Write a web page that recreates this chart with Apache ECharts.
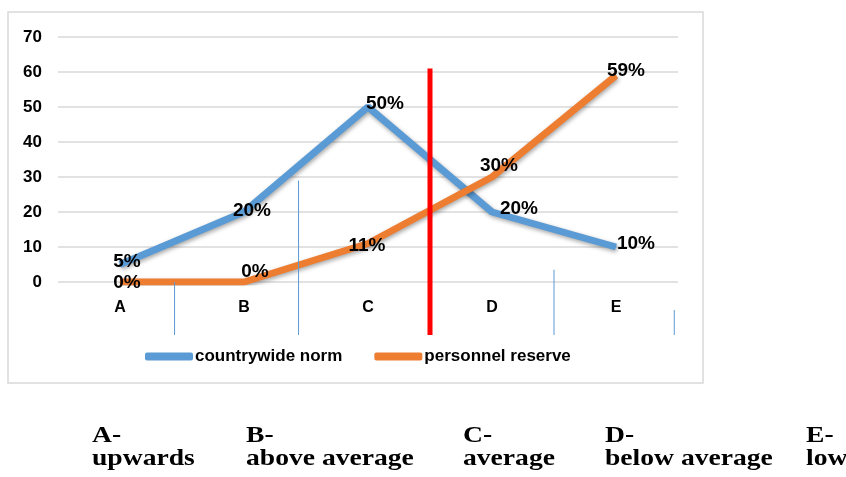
<!DOCTYPE html>
<html><head><meta charset="utf-8">
<script src="https://cdn.jsdelivr.net/npm/echarts@6/dist/echarts.min.js"></script>
<style>html,body{margin:0;padding:0;background:#fff}#c{width:846px;height:477px}</style>
</head><body><div id="c"></div>
<script>
const categories = ['A','B','C','D','E'];
const countrywideNorm = [5, 20, 50, 20, 10];
const personnelReserve = [0, 0, 11, 30, 59];
const yTicks = [0, 10, 20, 30, 40, 50, 60, 70];
const bottomCodes = ['A-', 'B-', 'C-', 'D-', 'E-'];
const bottomNames = ['upwards', 'above average', 'average', 'below average', 'low'];

const chart = echarts.init(document.getElementById('c'));
const blueOffsets = [[7,-3],[8,-1],[17,-3],[27,-3],[20,-3]];
const orangeOffsets = [[7,1],[11,-10],[-1,2],[7,-11],[10,-5]];
function mk(vals, offs) {
  return vals.map((v,i)=>({value:v,label:{offset:offs[i]}}));
}
const narrow = '"Liberation Sans Narrow", "Arial Narrow", "Liberation Sans", sans-serif';
const labelStyle = {show:true, position:'inside', formatter:'{c}%', color:'#000', fontSize:19, fontWeight:'bold', fontFamily:narrow};
chart.setOption({
  animation:false,
  grid:{left:58, right:168, top:37, bottom:195, containLabel:false},
  legend:{left:140, top:343, itemWidth:48, itemHeight:8, itemGap:32, icon:'roundRect',
    textStyle:{fontSize:17, fontWeight:'bold', color:'#000', fontFamily:narrow, padding:[0,0,0,-3]}},
  xAxis:{type:'category', data:categories, boundaryGap:true,
    axisLine:{show:false}, axisTick:{show:false},
    axisLabel:{fontSize:16, fontWeight:'bold', color:'#000', margin:18, fontFamily:'Liberation Sans, Arial, sans-serif'}},
  yAxis:{type:'value', min:yTicks[0], max:yTicks[yTicks.length-1], interval:10,
    axisLine:{show:false}, axisTick:{show:false},
    splitLine:{lineStyle:{color:'#d9d9d9', width:1.5}},
    axisLabel:{fontSize:17, fontWeight:'bold', color:'#000', margin:16, fontFamily:narrow}},
  series:[
    {name:'countrywide norm', type:'line', data:mk(countrywideNorm, blueOffsets), symbol:'circle', symbolSize:1, showSymbol:true, z:3,
      lineStyle:{color:'#5B9BD5', width:7, shadowColor:'rgba(0,0,0,0.35)', shadowBlur:4, shadowOffsetY:2, shadowOffsetX:1},
      itemStyle:{color:'#5B9BD5'}, label:labelStyle},
    {name:'personnel reserve', type:'line', data:mk(personnelReserve, orangeOffsets), symbol:'circle', symbolSize:1, showSymbol:true, z:4,
      lineStyle:{color:'#ED7D31', width:7, shadowColor:'rgba(0,0,0,0.35)', shadowBlur:4, shadowOffsetY:2, shadowOffsetX:1},
      itemStyle:{color:'#ED7D31'}, label:labelStyle}
  ]
});

// decorations positioned through the chart's own scales
const band = chart.convertToPixel({xAxisIndex:0}, 'B') - chart.convertToPixel({xAxisIndex:0}, 'A');
const xOf = c => chart.convertToPixel({xAxisIndex:0}, c);
const yOf = v => chart.convertToPixel({yAxisIndex:0}, v);
const y0 = yOf(0);
const lowY = y0 + 53;
const redX = xOf('C') + band/2;
const thin = [
  [xOf('A') + band*0.44, 0],
  [xOf('B') + band*0.44, 29],
  [xOf('D') + band*0.5, 3.5],
  [xOf('E') + band*0.47, -8]
];
const g = [
  {type:'rect', shape:{x:8, y:12, width:695, height:371}, style:{fill:'none', stroke:'#d9d9d9', lineWidth:1.5}, z:0},
  {type:'line', shape:{x1:redX, y1:yOf(61), x2:redX, y2:lowY}, style:{stroke:'#ff0000', lineWidth:5}, z:100}
];
thin.forEach(([x,v])=>{
  g.push({type:'line', shape:{x1:x, y1:yOf(v), x2:x, y2:lowY}, style:{stroke:'#5B9BD5', lineWidth:1}, z:100});
});
const bx = [92, 246, 463, 605, 806];
bx.forEach((x,i)=>{
  g.push({type:'text', x:x, y:448, scaleX:1.2, style:{text:bottomCodes[i], font:'bold 23px "Liberation Serif", "Times New Roman", serif', fill:'#000', textVerticalAlign:'bottom'}, z:100});
  g.push({type:'text', x:x, y:471, scaleX:1.2, style:{text:bottomNames[i], font:'bold 23px "Liberation Serif", "Times New Roman", serif', fill:'#000', textVerticalAlign:'bottom'}, z:100});
});
chart.setOption({graphic:g});
</script></body></html>
